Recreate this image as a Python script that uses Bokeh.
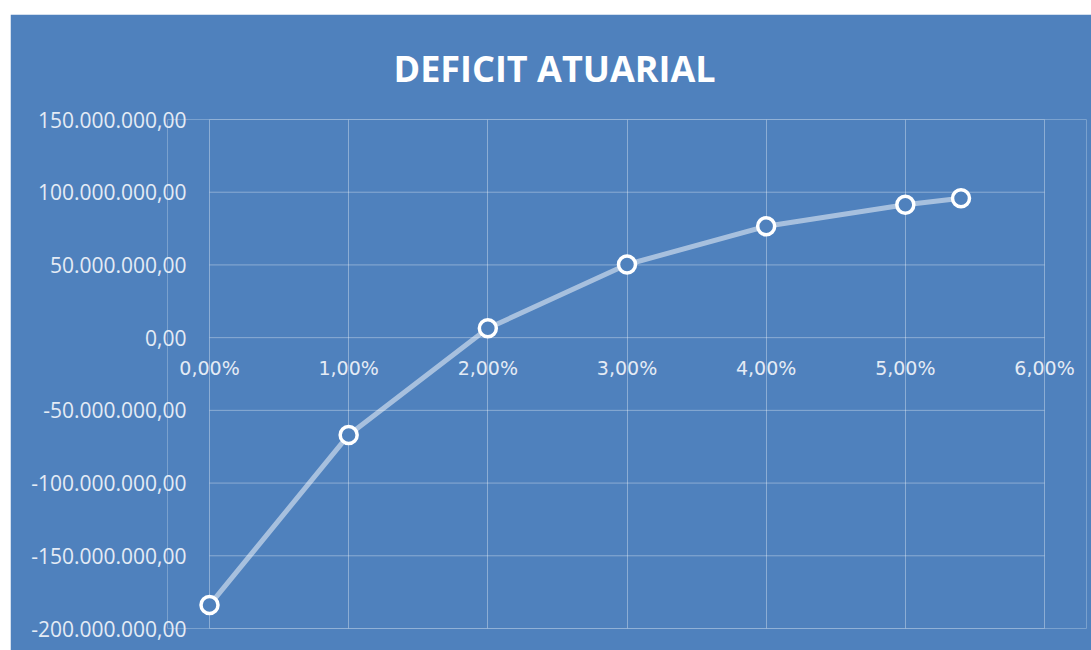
from bokeh.plotting import figure
from bokeh.models import ColumnDataSource, CustomJSTickFormatter, FixedTicker, Spacer
from bokeh.core.properties import value
from bokeh.layouts import column, row
from bokeh.embed import file_html
from bokeh.resources import INLINE

# ---- data ----
rates = [0.0, 1.0, 2.0, 3.0, 4.0, 5.0, 5.4]
deficit = [-183.9e6, -66.9e6, 6.4e6, 50.3e6, 76.6e6, 91.4e6, 95.8e6]
x_ticks = [0, 1, 2, 3, 4, 5, 6]
x_tick_labels = ["0,00%", "1,00%", "2,00%", "3,00%", "4,00%", "5,00%", "6,00%"]
y_ticks = [-200e6, -150e6, -100e6, -50e6, 0, 50e6, 100e6, 150e6]
title_text = "DEFICIT   ATUARIAL"

BG = "#4F81BD"
LABEL_C = "#E4EBF5"

# plot area (0..6 %) is 835 px wide; the frame is padded on both sides so that
# end markers and end tick labels are not clipped
AREA_W = 835
PAD_PX = 42
pad = PAD_PX * (x_ticks[-1] - x_ticks[0]) / AREA_W

src = ColumnDataSource(data=dict(x=rates, y=deficit))
xl_src = ColumnDataSource(data=dict(x=x_ticks, y=[0] * len(x_ticks), t=x_tick_labels))
hg_src = ColumnDataSource(data=dict(x0=[x_ticks[0]] * len(y_ticks),
                                    x1=[x_ticks[-1]] * len(y_ticks), y=y_ticks))

p = figure(
    output_backend="svg", toolbar_location=None,
    frame_width=AREA_W + 2 * PAD_PX, frame_height=509,
    min_border_left=199 - PAD_PX, min_border_right=5, min_border_top=104, min_border_bottom=22,
    x_range=(x_ticks[0] - pad, x_ticks[-1] + pad), y_range=(y_ticks[0], y_ticks[-1]),
    background_fill_color=BG, border_fill_color=BG, outline_line_color=None,
)

p.title.text = title_text
p.title.text_color = "white"
p.title.text_font = "Open Sans"
p.title.text_font_style = "bold"
p.title.text_font_size = "36px"
p.title.align = "left"
p.title.offset = 226
p.title.standoff = 54

# grid: vertical lines from the grid, horizontal lines limited to the 0..6 % area
p.xgrid.ticker = FixedTicker(ticks=x_ticks)
p.xgrid.grid_line_color = "white"
p.xgrid.grid_line_alpha = 0.35
p.ygrid.visible = False
p.segment(x0="x0", x1="x1", y0="y", y1="y", source=hg_src,
          line_color="white", line_alpha=0.35, line_width=1)

# axes
p.xaxis.visible = False
p.yaxis.ticker = FixedTicker(ticks=y_ticks)
p.yaxis.formatter = CustomJSTickFormatter(code="""
const neg = tick < 0;
const a = Math.abs(tick).toFixed(2).split('.');
const intp = a[0].replace(/\\B(?=(\\d{3})+(?!\\d))/g, '.');
return (neg ? '-' : '') + intp + ',' + a[1];
""")
p.yaxis.axis_line_color = None
p.yaxis.major_tick_line_color = None
p.yaxis.minor_tick_line_color = None
p.yaxis.major_label_text_color = LABEL_C
p.yaxis.major_label_text_font = "Open Sans"
p.yaxis.major_label_text_font_size = "21px"
p.yaxis.major_label_standoff = 17 - PAD_PX

# x tick labels along the zero line
p.text(x="x", y="y", text="t", source=xl_src,
       text_align="center", text_baseline="middle", y_offset=30,
       text_color=LABEL_C, text_font=value("DejaVu Sans"), text_font_size="19px")

# series
p.line("x", "y", source=src, line_color="white", line_alpha=0.5, line_width=5)
p.scatter("x", "y", source=src, size=17, marker="circle",
          fill_color=BG, line_color="white", line_width=3.5)

layout = column(Spacer(height=14), row(Spacer(width=10), p, spacing=0), spacing=0)
open("out.html", "w").write(file_html(layout, INLINE))
